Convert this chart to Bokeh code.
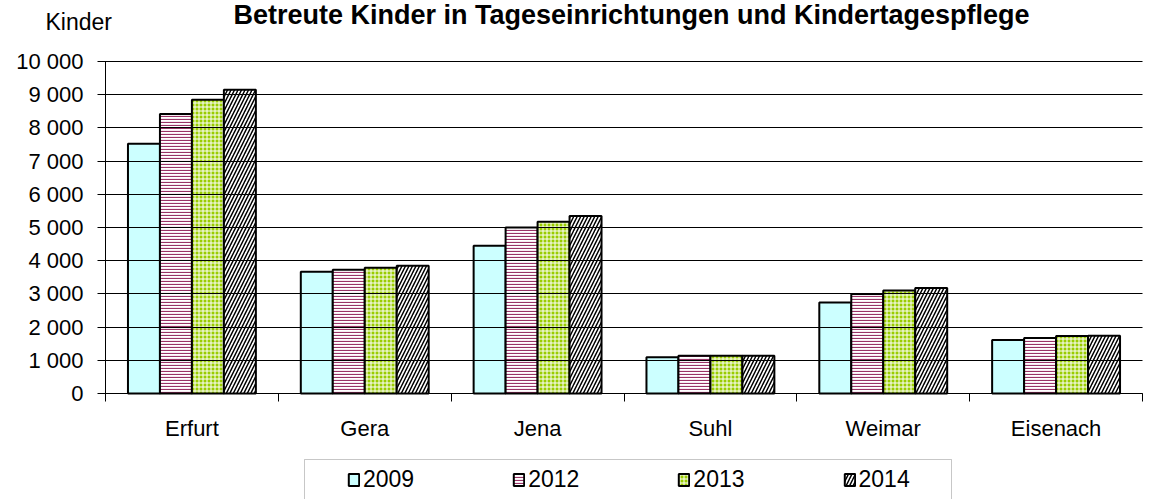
from bokeh.plotting import figure
from bokeh.models import (Range1d, FixedTicker, Legend, LegendItem, Label,
                          BoxAnnotation, ColumnDataSource)
from bokeh.transform import dodge
from bokeh.embed import file_html
from bokeh.resources import INLINE

# ---- data ----
cities = ["Erfurt", "Gera", "Jena", "Suhl", "Weimar", "Eisenach"]
years = ["2009", "2012", "2013", "2014"]
v2009 = [7520, 3670, 4450, 1090, 2740, 1610]
v2012 = [8420, 3730, 5000, 1140, 3000, 1670]
v2013 = [8850, 3790, 5170, 1140, 3100, 1730]
v2014 = [9150, 3850, 5350, 1140, 3180, 1740]
y_ticks = [0, 1000, 2000, 3000, 4000, 5000, 6000, 7000, 8000, 9000, 10000]
y_tick_labels = ["0", "1 000", "2 000", "3 000", "4 000", "5 000",
                 "6 000", "7 000", "8 000", "9 000", "10 000"]
title_text = "Betreute Kinder in Tageseinrichtungen und Kindertagespflege"
y_title = "Kinder"

# ---- layout (pixels) ----
FONT = "Liberation Sans"
W, H = 1153, 499
AX_LEFT, AX_RIGHT = 105, 1142      # y axis position / end of grid
AX_BOTTOM, AX_TOP = 393, 61        # value 0 / value 10000
YMAX = 10000
ncat = len(cities)
kx = (AX_RIGHT - AX_LEFT) / ncat
ky = (AX_BOTTOM - AX_TOP) / YMAX


def px_x(px):
    return (px - AX_LEFT) / kx


def px_y(py):
    return (AX_BOTTOM - py) / ky


pos = [i + 0.5 for i in range(ncat)]
src = ColumnDataSource(dict(pos=pos, city=cities, v2009=v2009, v2012=v2012,
                            v2013=v2013, v2014=v2014))

p = figure(width=W, height=H, output_backend="svg", toolbar_location=None,
           x_range=Range1d(px_x(0), px_x(W)),
           y_range=Range1d(px_y(H), px_y(0)),
           min_border_left=0, min_border_right=0, min_border_top=0,
           min_border_bottom=0)
p.outline_line_alpha = 0
p.background_fill_color = "white"
p.border_fill_color = "white"
p.xgrid.visible = False
p.ygrid.visible = False

bw = 0.185
offsets = [-1.5 * bw, -0.5 * bw, 0.5 * bw, 1.5 * bw]
styles = [
    dict(fill_color="#CCFFFF"),
    dict(fill_color="white", hatch_pattern="-", hatch_color="#993366",
         hatch_scale=3, hatch_weight=1.2),
    dict(fill_color="#99CC00", hatch_pattern="+", hatch_color="white",
         hatch_scale=4, hatch_weight=1),
    dict(fill_color="white", hatch_pattern="/", hatch_color="black",
         hatch_scale=7, hatch_weight=1.5),
]

# x axis: labels at category centers, ticks at boundaries
xa = p.xaxis[0]
xa.fixed_location = 0
xa.bounds = (0, ncat)
xa.ticker = FixedTicker(ticks=pos, minor_ticks=list(range(ncat + 1)))
xa.major_label_overrides = {pv: c for pv, c in zip(pos, cities)}
xa.major_tick_out = 0
xa.major_tick_in = 0
xa.minor_tick_out = 8
xa.minor_tick_in = 0
xa.minor_tick_line_color = "black"
xa.axis_line_color = "black"
xa.major_label_standoff = 14
xa.major_label_text_font = FONT
xa.major_label_text_font_size = "22px"
xa.major_label_text_color = "black"

# y axis; long inward ticks act as the horizontal grid lines
ya = p.yaxis[0]
ya.fixed_location = 0
ya.bounds = (0, YMAX)
ya.ticker = FixedTicker(ticks=y_ticks)
ya.major_label_overrides = {t: l for t, l in zip(y_ticks, y_tick_labels)}
ya.major_tick_out = 8
ya.major_tick_in = AX_RIGHT - AX_LEFT
ya.minor_tick_out = 0
ya.minor_tick_in = 0
ya.major_tick_line_color = "black"
ya.axis_line_color = "black"
ya.major_label_standoff = 14
ya.major_label_text_font = FONT
ya.major_label_text_font_size = "22px"
ya.major_label_text_color = "black"

renderers = []
for yr, off, st in zip(years, offsets, styles):
    r = p.vbar(x=dodge("pos", off), top="v" + yr, width=bw, bottom=0,
               source=src, line_color="black", line_width=2, **st)
    renderers.append(r)

# title and axis title
p.add_layout(Label(x=px_x(631), y=px_y(14), text=title_text,
                   text_align="center", text_baseline="alphabetic",
                   text_font=FONT, text_font_size="27px",
                   text_font_style="bold", text_color="black"))
p.add_layout(Label(x=px_x(45), y=px_y(21), text=y_title,
                   text_align="left", text_baseline="alphabetic",
                   text_font=FONT, text_font_size="23px",
                   text_color="black"))

# legend box + legend
p.add_layout(BoxAnnotation(left=px_x(304), right=px_x(951),
                           top=px_y(459), bottom=px_y(H + 20),
                           fill_alpha=0, line_color="#444444",
                           line_width=1))
legend = Legend(items=[LegendItem(label=yr, renderers=[r])
                       for yr, r in zip(years, renderers)],
                orientation="horizontal", location=(341, 0),
                padding=6, spacing=98, margin=0,
                glyph_width=13, glyph_height=15, label_standoff=3,
                label_text_font=FONT, label_text_font_size="23px",
                label_text_color="black",
                border_line_alpha=0, background_fill_alpha=0)
p.add_layout(legend)

open("out.html", "w").write(file_html(p, INLINE))
